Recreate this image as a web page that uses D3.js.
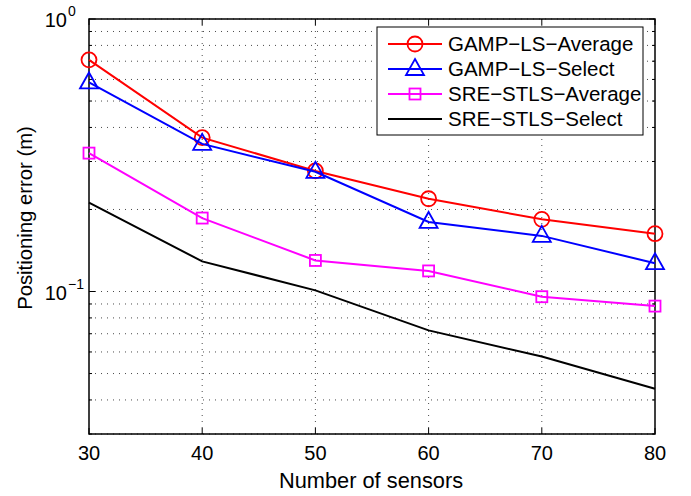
<!DOCTYPE html>
<html><head><meta charset="utf-8">
<script src="https://cdn.jsdelivr.net/npm/d3@7"></script>
<style>body{margin:0;background:#fff}svg{display:block;font-family:"Liberation Sans",Arial,sans-serif}</style>
</head><body><svg id="c" width="691" height="496"></svg>
<script>
const sensors = [30, 40, 50, 60, 70, 80];
const gampAvg = [0.708, 0.367, 0.277, 0.219, 0.184, 0.163];
const gampSel = [0.585, 0.348, 0.275, 0.180, 0.160, 0.127];
const sreAvg  = [0.322, 0.186, 0.130, 0.119, 0.0957, 0.0884];
const sreSel  = [0.212, 0.129, 0.101, 0.072, 0.0577, 0.044];
const seriesNames = ["GAMP\u2212LS\u2212Average","GAMP\u2212LS\u2212Select","SRE\u2212STLS\u2212Average","SRE\u2212STLS\u2212Select"];
const xTicks = [30, 40, 50, 60, 70, 80];
const yMajor = [0.1, 1];
const yMinor = [0.03,0.04,0.05,0.06,0.07,0.08,0.09,0.2,0.3,0.4,0.5,0.6,0.7,0.8,0.9];

const svg = d3.select("#c");
const L=89, R=655, T=19, B=434;
const x = d3.scaleLinear().domain([30,80]).range([L,R]);
const y = d3.scaleLog().domain([0.03,1]).range([B,T]);

// grid
const g = svg.append("g");
[...yMajor, ...yMinor].forEach(v=>{
  g.append("line").attr("x1",L).attr("x2",R).attr("y1",y(v)).attr("y2",y(v))
   .attr("stroke","#000").attr("stroke-width",1).attr("stroke-dasharray","1,5").attr("opacity",0.7);
});
xTicks.slice(1,-1).forEach(v=>{
  g.append("line").attr("y1",T).attr("y2",B).attr("x1",x(v)).attr("x2",x(v))
   .attr("stroke","#000").attr("stroke-width",1).attr("stroke-dasharray","1,5").attr("opacity",0.7);
});

// ticks inside
const tk = svg.append("g").attr("stroke","#000").attr("stroke-width",1);
xTicks.forEach(v=>{
  tk.append("line").attr("x1",x(v)).attr("x2",x(v)).attr("y1",B).attr("y2",B-6);
  tk.append("line").attr("x1",x(v)).attr("x2",x(v)).attr("y1",T).attr("y2",T+6);
});
yMajor.forEach(v=>{
  tk.append("line").attr("x1",L).attr("x2",L+6).attr("y1",y(v)).attr("y2",y(v));
  tk.append("line").attr("x1",R).attr("x2",R-6).attr("y1",y(v)).attr("y2",y(v));
});
yMinor.forEach(v=>{
  tk.append("line").attr("x1",L).attr("x2",L+3).attr("y1",y(v)).attr("y2",y(v));
  tk.append("line").attr("x1",R).attr("x2",R-3).attr("y1",y(v)).attr("y2",y(v));
});

// frame
svg.append("rect").attr("x",L).attr("y",T).attr("width",R-L).attr("height",B-T)
  .attr("fill","none").attr("stroke","#000").attr("stroke-width",1.5);

// tick labels
xTicks.forEach(v=>{
  svg.append("text").attr("x",x(v)).attr("y",B+26).attr("text-anchor","middle")
    .attr("font-size",20).text(v);
});
yMajor.forEach(v=>{
  const e = Math.round(Math.log10(v));
  const by = y(v)+8;
  svg.append("text").attr("x",L-22).attr("y",by).attr("text-anchor","end").attr("font-size",20).text("10");
  svg.append("text").attr("x",L-21).attr("y",by-11).attr("font-size",14).text(e===0?"0":"\u22121");
});

// axis labels
svg.append("text").attr("x",371).attr("y",488).attr("text-anchor","middle").attr("font-size",21.8).text("Number of sensors");
svg.append("text").attr("transform",`translate(32,218) rotate(-90)`).attr("text-anchor","middle").attr("font-size",20.3).text("Positioning error (m)");

// series
const colors = ["#ff0000","#0000ff","#ff00ff","#000000"];
const datas = [gampAvg, gampSel, sreAvg, sreSel];
const markers = ["circle","triangle","square",null];
function drawMarker(sel, type, cx, cy, col){
  if(type==="circle") sel.append("circle").attr("cx",cx).attr("cy",cy).attr("r",7.5).attr("fill","none").attr("stroke",col).attr("stroke-width",1.8);
  else if(type==="triangle") sel.append("path").attr("d",`M${cx},${cy-10}L${cx+9},${cy+6}L${cx-9},${cy+6}Z`).attr("fill","none").attr("stroke",col).attr("stroke-width",1.8);
  else if(type==="square") sel.append("rect").attr("x",cx-5.5).attr("y",cy-5.5).attr("width",11).attr("height",11).attr("fill","none").attr("stroke",col).attr("stroke-width",1.8);
}
const line = d3.line().x((d,i)=>x(sensors[i])).y(d=>y(d));
datas.forEach((d,k)=>{
  const sg = svg.append("g");
  sg.append("path").attr("d",line(d)).attr("fill","none").attr("stroke",colors[k]).attr("stroke-width",2);
  if(markers[k]) d.forEach((v,i)=>drawMarker(sg, markers[k], x(sensors[i]), y(v), colors[k]));
});

// legend
const lg = svg.append("g");
lg.append("rect").attr("x",377).attr("y",27).attr("width",266).attr("height",108).attr("fill","#fff").attr("stroke","#000").attr("stroke-width",1);
seriesNames.forEach((n,k)=>{
  const cy = 44 + k*25;
  lg.append("line").attr("x1",388).attr("x2",442).attr("y1",cy).attr("y2",cy).attr("stroke",colors[k]).attr("stroke-width",2);
  if(markers[k]) drawMarker(lg, markers[k], 415, cy, colors[k]);
  lg.append("text").attr("x",448).attr("y",cy+7).attr("font-size",20.5).text(n);
});
</script></body></html>
